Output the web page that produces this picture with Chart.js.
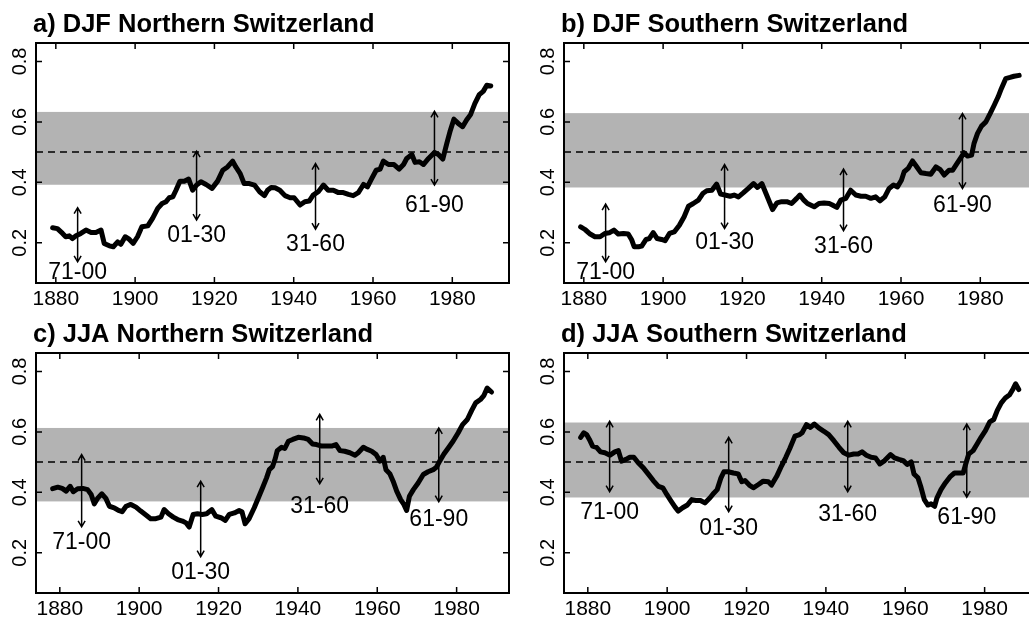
<!DOCTYPE html>
<html>
<head>
<meta charset="utf-8">
<title>DJF / JJA Switzerland</title>
<script src="https://cdn.jsdelivr.net/npm/chart.js@4.4.1/dist/chart.umd.min.js"></script>
<style>
  html, body { margin: 0; padding: 0; background: #fff; }
  body { width: 1029px; height: 620px; overflow: hidden; position: relative; }
  canvas { position: absolute; }
</style>
</head>
<body>
<canvas id="djfNorth" width="520" height="310" style="left:0px;top:0px"></canvas>
<canvas id="djfSouth" width="520" height="310" style="left:528px;top:0px"></canvas>
<canvas id="jjaNorth" width="520" height="310" style="left:0px;top:310px"></canvas>
<canvas id="jjaSouth" width="520" height="310" style="left:528px;top:310px"></canvas>
<script>
const FONT = '"Liberation Sans", Arial, Helvetica, sans-serif';

const PERIOD_LABELS = ['71-00', '01-30', '31-60', '61-90'];
const PERIOD_CENTRES = [1885.5, 1915.5, 1945.5, 1975.5];
const X_TICKS = [1880, 1900, 1920, 1940, 1960, 1980];
const Y_TICKS = [0.2, 0.4, 0.6, 0.8];
const REFERENCE_LEVEL = 0.5;

// a) DJF Northern Switzerland
const djfNorthYears = [
  1879.2, 1880.4, 1881.7, 1882.5, 1883.4, 1884.2, 1885.1, 1886.3, 1887.6, 1888.9,
  1890.1, 1891.4, 1892.2, 1893.5, 1894.5, 1895.6, 1896.4, 1897.5, 1898.5, 1899.5,
  1900.6, 1901.7, 1903.2, 1904.4, 1905.7, 1906.8, 1907.8, 1908.6, 1909.5, 1910.3,
  1911.3, 1912.4, 1913.5, 1914.5, 1915.5, 1916.6, 1917.9, 1919.4, 1920.8, 1922.1,
  1923.3, 1924.6, 1925.4, 1926.5, 1927.5, 1928.8, 1930.1, 1931.4, 1932.6, 1933.4,
  1934.3, 1935.3, 1936.5, 1937.8, 1939.1, 1940.1, 1941.6, 1942.8, 1943.9, 1944.9,
  1946.2, 1947.5, 1948.7, 1950.0, 1951.3, 1952.5, 1953.8, 1955.0, 1956.3, 1957.6,
  1958.6, 1959.7, 1960.8, 1961.8, 1962.6, 1963.9, 1965.3, 1966.6, 1967.7, 1968.5,
  1969.8, 1970.6, 1971.7, 1972.7, 1974.0, 1975.5, 1976.5, 1977.6, 1978.6, 1979.4,
  1980.4, 1981.5, 1982.6, 1983.6, 1984.6, 1985.7, 1986.8, 1987.8, 1988.7, 1989.7
];
const djfNorthValues = [
  0.250, 0.247, 0.231, 0.220, 0.223, 0.214, 0.223, 0.231, 0.242, 0.234,
  0.234, 0.242, 0.198, 0.190, 0.187, 0.203, 0.195, 0.220, 0.212, 0.198,
  0.220, 0.253, 0.256, 0.281, 0.314, 0.330, 0.336, 0.349, 0.352, 0.374,
  0.404, 0.404, 0.411, 0.374, 0.391, 0.402, 0.393, 0.380, 0.404, 0.440,
  0.451, 0.470, 0.451, 0.429, 0.396, 0.396, 0.391, 0.369, 0.356, 0.374,
  0.383, 0.382, 0.374, 0.356, 0.349, 0.349, 0.325, 0.336, 0.338, 0.358,
  0.369, 0.391, 0.374, 0.374, 0.366, 0.366, 0.360, 0.356, 0.366, 0.393,
  0.385, 0.413, 0.440, 0.444, 0.470, 0.459, 0.459, 0.444, 0.459, 0.479,
  0.492, 0.466, 0.468, 0.459, 0.479, 0.499, 0.492, 0.477, 0.528, 0.567,
  0.609, 0.595, 0.584, 0.606, 0.624, 0.661, 0.690, 0.701, 0.721, 0.719
];
const djfNorthBand = [0.392, 0.633];
const djfNorthArrowLow = [0.137, 0.275, 0.245, 0.391];
const djfNorthArrowHigh = [0.316, 0.503, 0.462, 0.635];
const djfNorthLabelAt = [0.100, 0.223, 0.193, 0.322];

// b) DJF Southern Switzerland
const djfSouthYears = [
  1879.2, 1880.3, 1881.6, 1882.8, 1884.1, 1885.3, 1886.4, 1887.6, 1888.7, 1890.0,
  1891.2, 1892.1, 1892.7, 1893.8, 1894.6, 1895.7, 1896.5, 1897.5, 1898.5, 1899.6,
  1900.5, 1901.6, 1902.8, 1904.1, 1905.3, 1906.4, 1907.6, 1908.9, 1910.0, 1911.0,
  1912.3, 1913.5, 1914.5, 1915.6, 1916.9, 1917.9, 1919.0, 1920.2, 1921.5, 1922.8,
  1923.8, 1924.9, 1926.1, 1927.6, 1928.7, 1929.9, 1931.2, 1932.4, 1933.7, 1934.5,
  1935.5, 1936.4, 1938.1, 1939.3, 1940.6, 1941.9, 1942.7, 1943.8, 1944.8, 1946.1,
  1947.3, 1948.6, 1949.9, 1951.1, 1952.4, 1953.6, 1954.7, 1955.9, 1957.0, 1958.1,
  1959.1, 1960.1, 1960.8, 1961.8, 1962.9, 1964.0, 1965.0, 1966.3, 1967.5, 1968.8,
  1969.9, 1970.9, 1972.1, 1973.0, 1974.1, 1975.1, 1975.9, 1976.8, 1977.8, 1978.4,
  1979.3, 1980.3, 1981.4, 1982.5, 1983.5, 1984.5, 1985.3, 1986.4, 1987.5, 1988.5,
  1989.8
];
const djfSouthValues = [
  0.253, 0.244, 0.229, 0.220, 0.220, 0.231, 0.233, 0.242, 0.229, 0.231,
  0.229, 0.209, 0.187, 0.187, 0.189, 0.211, 0.214, 0.234, 0.214, 0.211,
  0.207, 0.231, 0.236, 0.258, 0.286, 0.321, 0.330, 0.341, 0.363, 0.372,
  0.374, 0.394, 0.361, 0.358, 0.354, 0.358, 0.352, 0.365, 0.380, 0.396,
  0.383, 0.396, 0.358, 0.310, 0.332, 0.336, 0.336, 0.330, 0.347, 0.358,
  0.341, 0.330, 0.319, 0.330, 0.332, 0.330, 0.325, 0.317, 0.341, 0.347,
  0.374, 0.358, 0.354, 0.354, 0.347, 0.352, 0.339, 0.352, 0.380, 0.391,
  0.385, 0.407, 0.435, 0.446, 0.471, 0.451, 0.432, 0.429, 0.427, 0.451,
  0.442, 0.424, 0.440, 0.440, 0.462, 0.482, 0.498, 0.487, 0.490, 0.528,
  0.562, 0.586, 0.600, 0.628, 0.655, 0.683, 0.710, 0.743, 0.747, 0.751,
  0.754
];
const djfSouthBand = [0.383, 0.629];
const djfSouthArrowLow = [0.137, 0.247, 0.240, 0.380];
const djfSouthArrowHigh = [0.328, 0.459, 0.444, 0.628];
const djfSouthLabelAt = [0.101, 0.201, 0.187, 0.322];

// c) JJA Northern Switzerland
const jjaNorthYears = [
  1878.2, 1879.5, 1880.6, 1881.6, 1882.6, 1883.4, 1884.5, 1885.8, 1887.0, 1887.9,
  1888.7, 1889.5, 1890.6, 1891.6, 1892.5, 1893.7, 1894.8, 1895.7, 1896.7, 1897.9,
  1899.2, 1900.4, 1901.7, 1902.9, 1904.2, 1905.5, 1906.3, 1907.4, 1908.6, 1909.7,
  1910.9, 1911.8, 1912.6, 1913.6, 1914.7, 1915.9, 1917.0, 1918.3, 1919.3, 1920.6,
  1921.7, 1922.7, 1924.0, 1925.2, 1925.9, 1926.7, 1927.7, 1929.0, 1930.1, 1931.1,
  1932.1, 1932.8, 1933.6, 1934.3, 1934.8, 1935.9, 1936.7, 1937.6, 1938.7, 1940.1,
  1941.4, 1942.6, 1943.7, 1944.7, 1946.0, 1947.2, 1948.5, 1949.6, 1950.6, 1951.8,
  1953.1, 1954.4, 1955.2, 1956.5, 1957.5, 1958.6, 1959.7, 1960.7, 1961.5, 1962.2,
  1963.2, 1964.0, 1964.9, 1965.9, 1966.7, 1967.4, 1968.1, 1969.1, 1970.3, 1971.6,
  1972.8, 1974.1, 1974.9, 1975.8, 1976.8, 1977.9, 1979.1, 1980.4, 1981.5, 1982.7,
  1983.8, 1984.8, 1986.0, 1986.9, 1987.7, 1988.8
];
const jjaNorthValues = [
  0.412, 0.417, 0.413, 0.404, 0.420, 0.402, 0.412, 0.413, 0.409, 0.393,
  0.362, 0.380, 0.395, 0.380, 0.354, 0.349, 0.340, 0.336, 0.354, 0.360,
  0.351, 0.338, 0.325, 0.313, 0.313, 0.318, 0.343, 0.329, 0.318, 0.310,
  0.305, 0.299, 0.285, 0.327, 0.329, 0.327, 0.329, 0.343, 0.321, 0.316,
  0.307, 0.327, 0.332, 0.340, 0.336, 0.296, 0.313, 0.349, 0.384, 0.415,
  0.448, 0.475, 0.485, 0.512, 0.538, 0.549, 0.545, 0.569, 0.575, 0.582,
  0.580, 0.575, 0.560, 0.558, 0.553, 0.553, 0.553, 0.558, 0.538, 0.536,
  0.531, 0.523, 0.531, 0.549, 0.542, 0.536, 0.525, 0.503, 0.516, 0.475,
  0.461, 0.437, 0.404, 0.376, 0.360, 0.340, 0.387, 0.409, 0.431, 0.459,
  0.468, 0.475, 0.483, 0.505, 0.527, 0.547, 0.569, 0.597, 0.624, 0.641,
  0.671, 0.696, 0.707, 0.721, 0.745, 0.732
];
const jjaNorthBand = [0.370, 0.613];
const jjaNorthArrowLow = [0.286, 0.187, 0.428, 0.369];
const jjaNorthArrowHigh = [0.525, 0.437, 0.658, 0.613];
const jjaNorthLabelAt = [0.233, 0.134, 0.354, 0.310];

// d) JJA Southern Switzerland
const jjaSouthYears = [
  1878.2, 1879.0, 1879.7, 1880.4, 1881.2, 1882.2, 1883.2, 1884.3, 1885.6, 1886.8,
  1887.7, 1888.5, 1889.6, 1890.6, 1891.6, 1892.7, 1894.0, 1895.2, 1896.5, 1897.8,
  1898.9, 1899.9, 1900.9, 1902.0, 1902.8, 1903.9, 1905.1, 1906.2, 1907.2, 1908.4,
  1909.5, 1910.8, 1911.8, 1912.6, 1913.5, 1914.3, 1915.4, 1916.7, 1917.9, 1918.8,
  1919.6, 1920.7, 1921.7, 1923.0, 1924.2, 1925.5, 1926.3, 1927.6, 1928.8, 1929.9,
  1930.9, 1932.2, 1933.4, 1934.0, 1935.1, 1936.1, 1937.1, 1938.2, 1939.5, 1940.7,
  1942.0, 1943.3, 1944.5, 1945.8, 1947.0, 1948.1, 1949.1, 1950.2, 1951.4, 1952.5,
  1953.6, 1954.8, 1956.3, 1957.3, 1958.4, 1959.5, 1960.5, 1961.5, 1962.2, 1963.2,
  1964.0, 1964.8, 1965.7, 1966.5, 1967.4, 1968.0, 1969.0, 1970.1, 1971.4, 1972.4,
  1973.5, 1974.6, 1975.2, 1976.0, 1977.1, 1978.1, 1979.1, 1980.2, 1981.3, 1982.3,
  1983.2, 1984.2, 1985.2, 1986.3, 1987.2, 1987.8, 1988.6
];
const jjaSouthValues = [
  0.582, 0.597, 0.591, 0.575, 0.553, 0.549, 0.534, 0.531, 0.523, 0.534,
  0.538, 0.503, 0.509, 0.516, 0.516, 0.498, 0.481, 0.461, 0.439, 0.420,
  0.415, 0.393, 0.373, 0.351, 0.338, 0.349, 0.358, 0.376, 0.373, 0.373,
  0.365, 0.382, 0.398, 0.409, 0.446, 0.468, 0.468, 0.464, 0.461, 0.435,
  0.439, 0.424, 0.415, 0.426, 0.437, 0.435, 0.424, 0.453, 0.487, 0.516,
  0.545, 0.586, 0.591, 0.597, 0.624, 0.615, 0.626, 0.613, 0.602, 0.591,
  0.571, 0.549, 0.531, 0.523, 0.527, 0.527, 0.534, 0.523, 0.516, 0.514,
  0.494, 0.505, 0.525, 0.514, 0.509, 0.505, 0.492, 0.501, 0.461, 0.448,
  0.415, 0.376, 0.358, 0.362, 0.354, 0.382, 0.409, 0.431, 0.453, 0.464,
  0.464, 0.464, 0.492, 0.527, 0.538, 0.560, 0.582, 0.604, 0.633, 0.641,
  0.671, 0.696, 0.712, 0.723, 0.743, 0.759, 0.740
];
const jjaSouthBand = [0.383, 0.631];
const jjaSouthArrowLow = [0.402, 0.336, 0.402, 0.384];
const jjaSouthArrowHigh = [0.635, 0.582, 0.635, 0.626];
const jjaSouthLabelAt = [0.332, 0.280, 0.326, 0.316];

// grey band, period arrows with labels, boxed frame with inward ticks,
// rotated y labels and the bold panel title
const panelMarks = {
  id: 'panelMarks',
  beforeDatasetsDraw(chart, args, opts) {
    const { ctx, chartArea: area, scales: { y } } = chart;
    const top = y.getPixelForValue(opts.band[1]);
    const bottom = y.getPixelForValue(opts.band[0]);
    ctx.save();
    ctx.fillStyle = '#b3b3b3';
    ctx.fillRect(area.left, top, area.right - area.left, bottom - top);
    ctx.restore();
  },
  afterDatasetsDraw(chart, args, opts) {
    const { ctx, chartArea: area, scales: { x, y } } = chart;
    ctx.save();
    ctx.strokeStyle = '#000';
    ctx.fillStyle = '#000';

    // double-headed arrows
    ctx.lineWidth = 1.5;
    ctx.beginPath();
    PERIOD_CENTRES.forEach((year, i) => {
      const px = x.getPixelForValue(year);
      const yTop = y.getPixelForValue(opts.arrowHigh[i]);
      const yBot = y.getPixelForValue(opts.arrowLow[i]);
      ctx.moveTo(px, yTop);
      ctx.lineTo(px, yBot);
      ctx.moveTo(px - 3.5, yTop + 6);
      ctx.lineTo(px, yTop);
      ctx.lineTo(px + 3.5, yTop + 6);
      ctx.moveTo(px - 3.5, yBot - 6);
      ctx.lineTo(px, yBot);
      ctx.lineTo(px + 3.5, yBot - 6);
    });
    ctx.stroke();

    ctx.font = '23px ' + FONT;
    ctx.textAlign = 'center';
    ctx.textBaseline = 'middle';
    PERIOD_LABELS.forEach((label, i) => {
      ctx.fillText(label, x.getPixelForValue(PERIOD_CENTRES[i]), y.getPixelForValue(opts.labelAt[i]));
    });

    // box
    ctx.lineWidth = 2;
    ctx.strokeRect(area.left, area.top, area.right - area.left, area.bottom - area.top);

    // ticks pointing into the box on all four sides
    ctx.lineWidth = 1.5;
    ctx.beginPath();
    X_TICKS.forEach(v => {
      const px = x.getPixelForValue(v);
      ctx.moveTo(px, area.top);
      ctx.lineTo(px, area.top + 6);
      ctx.moveTo(px, area.bottom);
      ctx.lineTo(px, area.bottom - 6);
    });
    Y_TICKS.forEach(v => {
      const py = y.getPixelForValue(v);
      ctx.moveTo(area.left, py);
      ctx.lineTo(area.left + 6, py);
      ctx.moveTo(area.right, py);
      ctx.lineTo(area.right - 6, py);
    });
    ctx.stroke();

    ctx.font = '20px ' + FONT;
    Y_TICKS.forEach(v => {
      ctx.save();
      ctx.translate(area.left - 16, y.getPixelForValue(v));
      ctx.rotate(-Math.PI / 2);
      ctx.fillText(v.toFixed(1), 0, 0);
      ctx.restore();
    });

    ctx.font = 'bold 25.5px ' + FONT;
    ctx.textAlign = 'left';
    ctx.textBaseline = 'alphabetic';
    ctx.fillText(opts.title, area.left - 3, area.top - 11);
    ctx.restore();
  }
};

function drawPanel(canvasId, panel) {
  const points = panel.years.map((year, i) => ({ x: year, y: panel.values[i] }));
  new Chart(document.getElementById(canvasId), {
    type: 'line',
    data: {
      datasets: [
        {
          data: points,
          borderColor: '#000',
          borderWidth: 5,
          borderJoinStyle: 'round',
          borderCapStyle: 'round',
          pointRadius: 0,
          tension: 0,
        },
        {
          data: [
            { x: panel.xRange[0], y: REFERENCE_LEVEL },
            { x: panel.xRange[1], y: REFERENCE_LEVEL },
          ],
          borderColor: '#000',
          borderWidth: 1.5,
          borderDash: [7, 5],
          pointRadius: 0,
        },
      ],
    },
    options: {
      responsive: false,
      animation: false,
      events: [],
      layout: { padding: { top: 43, right: 11, bottom: 0, left: 0 } },
      plugins: {
        legend: { display: false },
        tooltip: { enabled: false },
        panelMarks: {
          title: panel.title,
          band: panel.band,
          arrowLow: panel.arrowLow,
          arrowHigh: panel.arrowHigh,
          labelAt: panel.labelAt,
        },
      },
      scales: {
        x: {
          type: 'linear',
          min: panel.xRange[0],
          max: panel.xRange[1],
          grid: { display: false, drawTicks: false },
          border: { display: false },
          afterBuildTicks: scale => { scale.ticks = X_TICKS.map(v => ({ value: v })); },
          afterFit: scale => { scale.height = 27; },
          ticks: {
            color: '#000',
            font: { family: FONT, size: 21 },
            padding: 4,
            maxRotation: 0,
            autoSkip: false,
            callback: v => String(v),
          },
        },
        y: {
          type: 'linear',
          min: 0.067,
          max: 0.861,
          grid: { display: false, drawTicks: false },
          border: { display: false },
          ticks: { display: false },
          afterFit: scale => { scale.width = 36; },
        },
      },
    },
    plugins: [panelMarks],
  });
}

drawPanel('djfNorth', {
  title: 'a) DJF Northern Switzerland',
  xRange: [1875.0, 1994.3],
  years: djfNorthYears, values: djfNorthValues, band: djfNorthBand,
  arrowLow: djfNorthArrowLow, arrowHigh: djfNorthArrowHigh, labelAt: djfNorthLabelAt,
});
drawPanel('djfSouth', {
  title: 'b) DJF Southern Switzerland',
  xRange: [1875.0, 1994.3],
  years: djfSouthYears, values: djfSouthValues, band: djfSouthBand,
  arrowLow: djfSouthArrowLow, arrowHigh: djfSouthArrowHigh, labelAt: djfSouthLabelAt,
});
drawPanel('jjaNorth', {
  title: 'c) JJA Northern Switzerland',
  xRange: [1874.0, 1993.2],
  years: jjaNorthYears, values: jjaNorthValues, band: jjaNorthBand,
  arrowLow: jjaNorthArrowLow, arrowHigh: jjaNorthArrowHigh, labelAt: jjaNorthLabelAt,
});
drawPanel('jjaSouth', {
  title: 'd) JJA Southern Switzerland',
  xRange: [1874.0, 1993.2],
  years: jjaSouthYears, values: jjaSouthValues, band: jjaSouthBand,
  arrowLow: jjaSouthArrowLow, arrowHigh: jjaSouthArrowHigh, labelAt: jjaSouthLabelAt,
});
</script>
</body>
</html>
